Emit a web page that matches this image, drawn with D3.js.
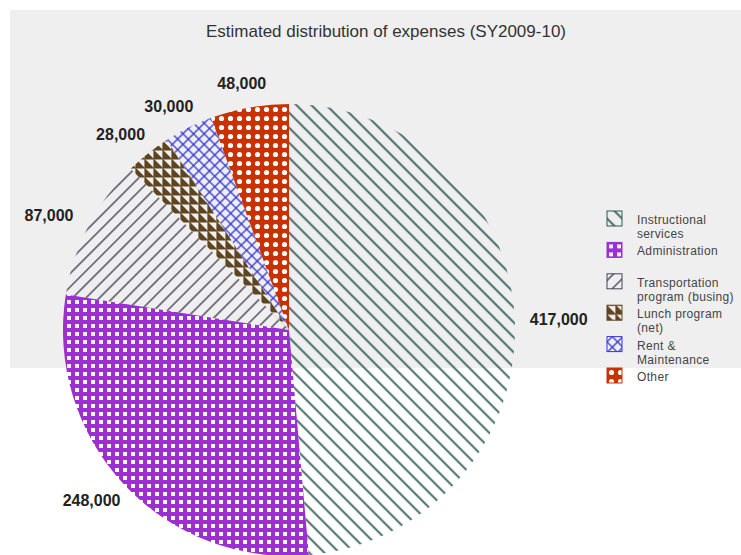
<!DOCTYPE html>
<html>
<head>
<meta charset="utf-8">
<script src="https://cdn.jsdelivr.net/npm/d3@7"></script>
<style>
  html, body { margin: 0; padding: 0; background: #fff; }
  svg { display: block; font-family: Arial, "Liberation Sans", sans-serif; }
</style>
</head>
<body>
<svg id="chart" width="741" height="555"></svg>
<script>
// ─── Data ─────────────────────────────────────────────────────────────────────

const categories = [
  "Instructional services",
  "Administration",
  "Transportation program (busing)",
  "Lunch program (net)",
  "Rent & Maintenance",
  "Other"
];
const values = [417000, 248000, 87000, 28000, 30000, 48000];
const legendLines = [
  ["Instructional", "services"],
  ["Administration"],
  ["Transportation", "program (busing)"],
  ["Lunch program", "(net)"],
  ["Rent &", "Maintenance"],
  ["Other"]
];
const title = "Estimated distribution of expenses (SY2009-10)";

// ─── Setup ────────────────────────────────────────────────────────────────────

const svg = d3.select("#chart");
const W = 741, H = 555;
const cx = 289, cy = 330, radius = 226;

// panel background (grey upper area)
svg.append("rect")
  .attr("x", 10).attr("y", 10)
  .attr("width", W - 10).attr("height", 358)
  .attr("fill", "#efefef");

const defs = svg.append("defs");

function linePattern(id, spacing, angle, color, width, cross) {
  const p = defs.append("pattern")
    .attr("id", id)
    .attr("patternUnits", "userSpaceOnUse")
    .attr("width", spacing).attr("height", spacing)
    .attr("patternTransform", `rotate(${angle})`);
  p.append("line")
    .attr("x1", 0).attr("x2", spacing)
    .attr("y1", spacing / 2).attr("y2", spacing / 2)
    .attr("stroke", color).attr("stroke-width", width);
  if (cross) {
    p.append("line")
      .attr("y1", 0).attr("y2", spacing)
      .attr("x1", spacing / 2).attr("x2", spacing / 2)
      .attr("stroke", color).attr("stroke-width", width);
  }
}

// Instructional: "\" lines
linePattern("p0", 10.6, 45, "#2c5a52", 1.8, false);

// Administration: purple grid with holes
const p1 = defs.append("pattern")
  .attr("id", "p1").attr("patternUnits", "userSpaceOnUse")
  .attr("width", 8).attr("height", 8);
p1.append("path")
  .attr("d", "M0,0H8V8H0Z M2,2V6H6V2Z")
  .attr("fill-rule", "evenodd")
  .attr("fill", "#9a2fd4");

// Transportation: "/" lines
linePattern("p2", 9.5, -45, "#45425a", 1.4, false);

// Lunch: brown triangles
const p3 = defs.append("pattern")
  .attr("id", "p3").attr("patternUnits", "userSpaceOnUse")
  .attr("width", 9).attr("height", 9);
p3.append("path")
  .attr("d", "M0,0L9,9H0Z")
  .attr("fill", "#5e4520");
p3.append("path")
  .attr("d", "M0,0H9V9")
  .attr("fill", "none")
  .attr("stroke", "#5e4520").attr("stroke-width", 1.2);

// Rent: blue crosshatch
linePattern("p4", 7.5, 45, "#3434d8", 1.3, true);

// Other: red with white dots
const p5 = defs.append("pattern")
  .attr("id", "p5").attr("patternUnits", "userSpaceOnUse")
  .attr("width", 9).attr("height", 9);
p5.append("rect").attr("width", 9).attr("height", 9).attr("fill", "#c83200");
p5.append("circle").attr("cx", 4.5).attr("cy", 4.5).attr("r", 2.6).attr("fill", "#fafafa");

const strokes = ["#2c5a52", "#9a2fd4", "#45425a", "#5e4520", "#3434d8", "#c83200"];

// ─── Pie ──────────────────────────────────────────────────────────────────────

const pie = d3.pie().sort(null).value(d => d);
const arcs = pie(values);
const arc = d3.arc().innerRadius(0).outerRadius(radius);

const g = svg.append("g").attr("transform", `translate(${cx},${cy})`);

g.selectAll("path")
  .data(arcs)
  .join("path")
  .attr("d", arc)
  .attr("fill", (d, i) => `url(#p${i})`);

// Value labels
const fmt = d3.format(",");
const labelRx = 270, labelRy = 250;

g.selectAll(".val")
  .data(arcs)
  .join("text")
  .attr("class", "val")
  .attr("x", d => labelRx * Math.sin((d.startAngle + d.endAngle) / 2))
  .attr("y", d => -labelRy * Math.cos((d.startAngle + d.endAngle) / 2))
  .attr("dy", "0.35em")
  .attr("text-anchor", "middle")
  .attr("font-size", "16px")
  .attr("font-weight", "700")
  .attr("fill", "#222")
  .text(d => fmt(d.data));

// ─── Title ────────────────────────────────────────────────────────────────────

svg.append("text")
  .attr("x", 386).attr("y", 37)
  .attr("text-anchor", "middle")
  .attr("font-size", "17px")
  .attr("fill", "#333")
  .text(title);

// ─── Legend ───────────────────────────────────────────────────────────────────

const legend = svg.append("g").attr("transform", "translate(607,211)");
const step = 31.4;

const item = legend.selectAll("g")
  .data(categories)
  .join("g")
  .attr("transform", (d, i) => `translate(0,${i * step})`);

item.append("rect")
  .attr("width", 15).attr("height", 15)
  .attr("fill", (d, i) => `url(#p${i})`)
  .attr("stroke", (d, i) => strokes[i])
  .attr("stroke-width", 1);

item.append("text")
  .attr("x", 30).attr("y", 13)
  .attr("font-size", "12px")
  .attr("letter-spacing", "0.35px")
  .attr("fill", "#444")
  .selectAll("tspan")
  .data((d, i) => legendLines[i])
  .join("tspan")
  .attr("x", 30)
  .attr("dy", (d, j) => j === 0 ? 0 : 14)
  .text(d => d);
</script>
</body>
</html>
